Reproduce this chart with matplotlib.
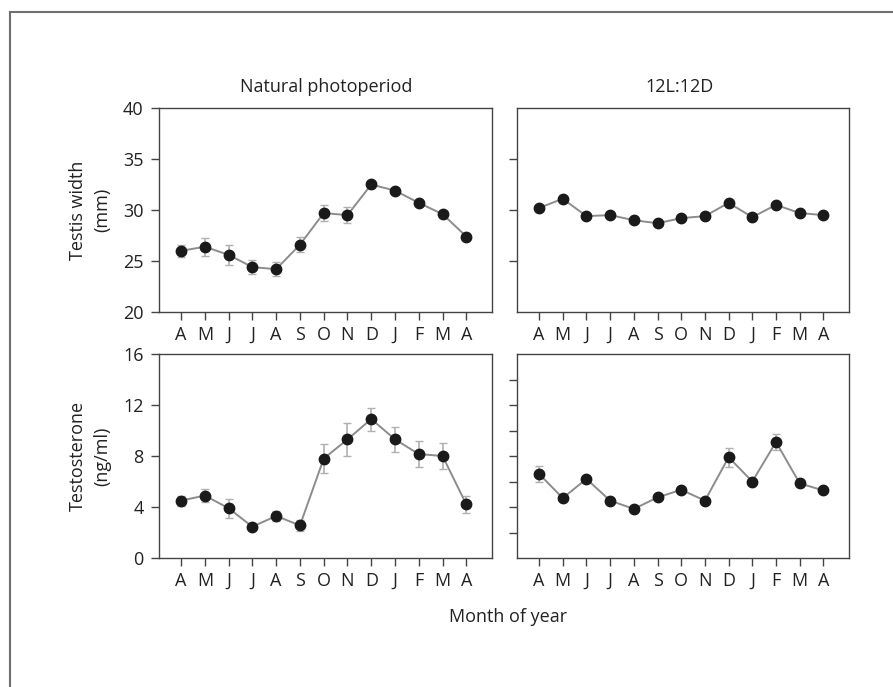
import numpy as np
import matplotlib
matplotlib.use("Agg")
import matplotlib.pyplot as plt
from matplotlib.lines import Line2D

plt.rcParams['font.family'] = ['Open Sans', 'DejaVu Sans']

# データ
months = ['A', 'M', 'J', 'J', 'A', 'S', 'O', 'N', 'D', 'J', 'F', 'M', 'A']
width_nat = [26.0, 26.4, 25.6, 24.4, 24.2, 26.6, 29.7, 29.5, 32.5, 31.9, 30.7, 29.6, 27.4]
width_nat_err = [0.6, 0.9, 1.0, 0.7, 0.7, 0.75, 0.75, 0.8, 0.35, 0.3, 0.3, 0.3, 0.3]
width_12 = [30.2, 31.1, 29.4, 29.5, 29.0, 28.7, 29.2, 29.4, 30.7, 29.3, 30.5, 29.7, 29.5]
width_12_err = [0.2, 0.2, 0.2, 0.2, 0.2, 0.2, 0.2, 0.2, 0.2, 0.2, 0.2, 0.2, 0.2]
testo_nat = [4.5, 4.9, 3.9, 2.45, 3.3, 2.55, 7.8, 9.3, 10.9, 9.3, 8.15, 8.0, 4.2]
testo_nat_err = [0.4, 0.5, 0.75, 0.2, 0.4, 0.45, 1.15, 1.3, 0.9, 1.0, 1.05, 1.0, 0.65]
testo_12 = [6.6, 4.7, 6.2, 4.5, 3.85, 4.75, 5.35, 4.5, 7.9, 6.0, 9.1, 5.85, 5.3]
testo_12_err = [0.6, 0.2, 0.2, 0.2, 0.2, 0.2, 0.2, 0.2, 0.73, 0.2, 0.64, 0.2, 0.2]

x = np.arange(len(months))
W, H = 893, 687
FS = 13
TXT = '#222222'
fig = plt.figure(figsize=(W / 100, H / 100), dpi=100)

def px_axes(l, t, r, b):
    return fig.add_axes([l / W, 1 - b / H, (r - l) / W, (b - t) / H])

axs = [px_axes(159, 108, 492, 312), px_axes(517, 108, 849, 312),
       px_axes(159, 354, 492, 558), px_axes(517, 354, 849, 558)]
datas = [(width_nat, width_nat_err), (width_12, width_12_err),
         (testo_nat, testo_nat_err), (testo_12, testo_12_err)]

for i, ax in enumerate(axs):
    y, e = datas[i]
    ax.errorbar(x, y, yerr=e, fmt='none', ecolor='#b0b0b0', elinewidth=1.2,
                capsize=3, capthick=1.0, zorder=2)
    ax.plot(x, y, color='#8c8c8c', lw=1.4, zorder=3)
    ax.plot(x, y, 'o', color='#1a1a1a', ms=7.5, zorder=4)
    ax.set_xlim(-0.93, 13.08)
    ax.set_xticks(x)
    ax.set_xticklabels(months, fontsize=FS, color=TXT)
    for s in ax.spines.values():
        s.set_color('#444444')
        s.set_linewidth(1.0)
    ax.tick_params(direction='out', length=6, width=1.0, color='#444444', pad=4)
    ax.tick_params(axis='y', labelsize=FS, labelcolor=TXT, pad=5)

axs[0].set_ylim(20, 40)
axs[0].set_yticks([20, 25, 30, 35, 40])
axs[1].set_ylim(20, 40)
axs[1].set_yticks([25, 30, 35])
axs[1].set_yticklabels([])
axs[2].set_ylim(0, 16)
axs[2].set_yticks([0, 4, 8, 12, 16])
axs[3].set_ylim(0, 16)
axs[3].set_yticks([2, 4, 6, 8, 10, 12, 14])
axs[3].set_yticklabels([])

fig.text(326 / W, 1 - 87 / H, 'Natural photoperiod', ha='center', va='center',
         fontsize=FS, color=TXT)
fig.text(680 / W, 1 - 87 / H, '12L:12D', ha='center', va='center',
         fontsize=FS, color=TXT)
fig.text(90 / W, 1 - 210 / H, 'Testis width\n(mm)', ha='center', va='center',
         rotation=90, fontsize=FS, color=TXT, linespacing=1.45)
fig.text(90 / W, 1 - 456 / H, 'Testosterone\n(ng/ml)', ha='center', va='center',
         rotation=90, fontsize=FS, color=TXT, linespacing=1.45)
fig.text(508 / W, 1 - 622 / H, 'Month of year', ha='center', va='baseline',
         fontsize=FS, color=TXT)

# 外枠
fig.add_artist(Line2D([10 / W, 1.0], [1 - 12 / H, 1 - 12 / H], color='#707070', lw=1.5))
fig.add_artist(Line2D([10 / W, 10 / W], [0.0, 1 - 12 / H], color='#707070', lw=1.5))

fig.savefig('out.png', dpi=100)
